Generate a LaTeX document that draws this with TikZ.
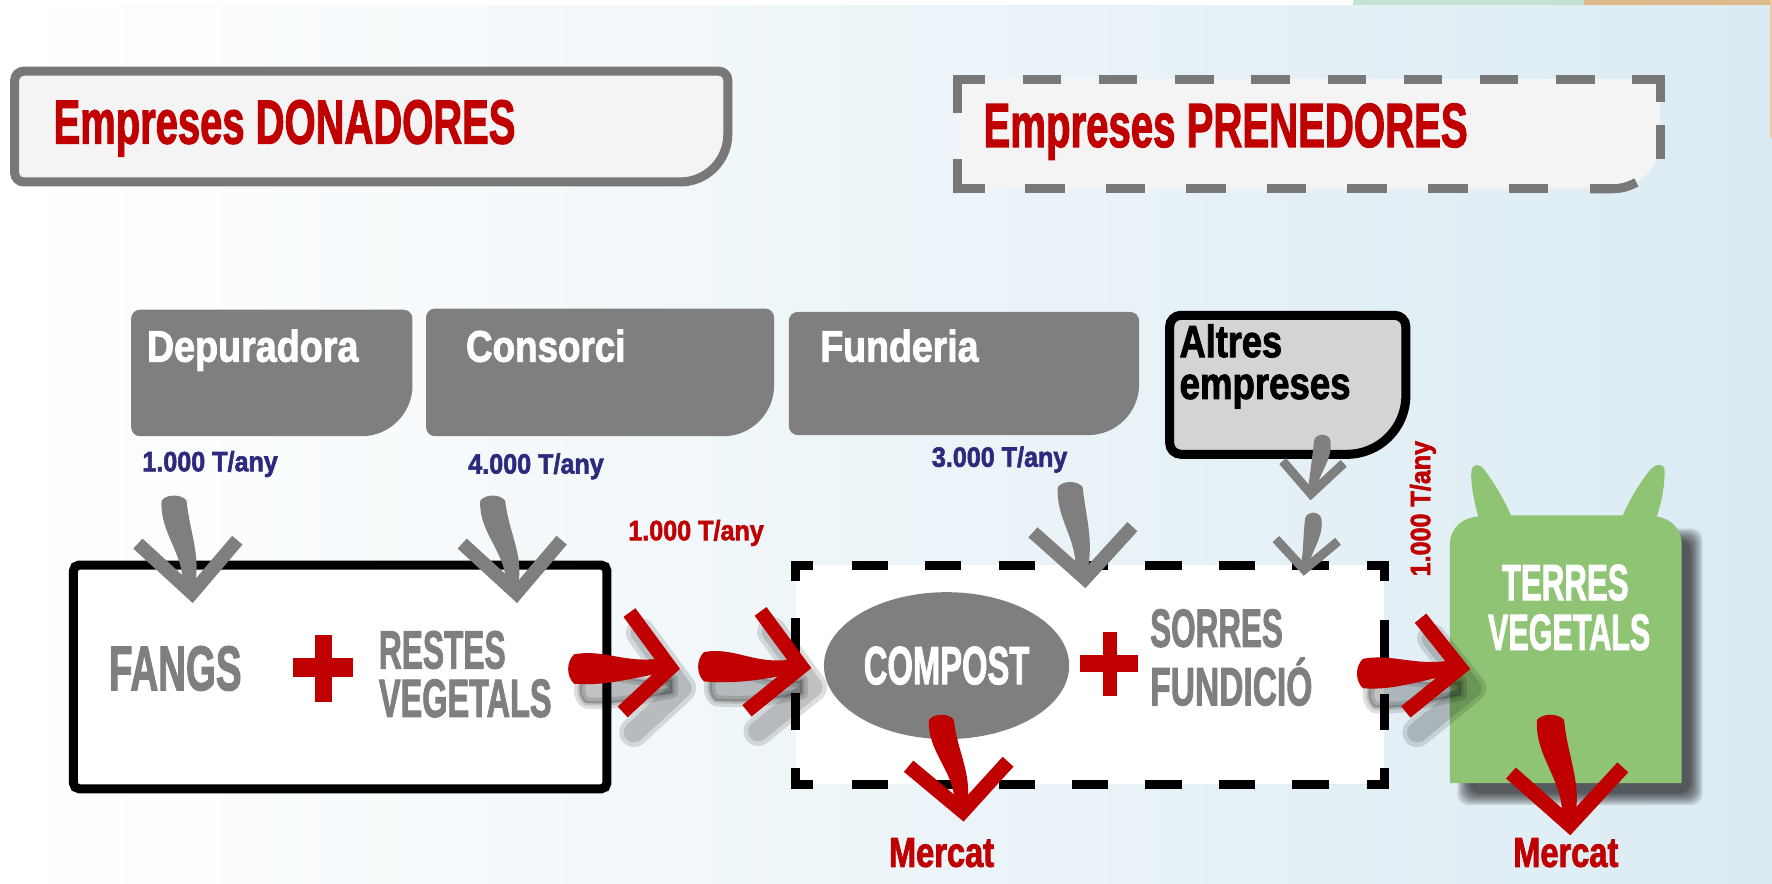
\documentclass[tikz,border=0pt]{standalone}
\usepackage{fontspec}
\setmainfont{Liberation Sans}[BoldFeatures={FakeBold=2.2}]
\usepackage{graphicx}
\usetikzlibrary{shapes.geometric}
\definecolor{cred}{RGB}{192,0,0}
\definecolor{cgray}{RGB}{127,127,127}
\definecolor{cnavy}{RGB}{45,42,125}
\definecolor{cgreen}{RGB}{143,196,117}
\definecolor{cbg}{RGB}{219,235,243}
\definecolor{cbox}{RGB}{244,244,244}
\definecolor{cborder}{RGB}{120,120,120}
\definecolor{clight}{RGB}{212,212,212}
\definecolor{cmint}{RGB}{197,227,212}
\definecolor{ctan}{RGB}{224,185,138}
\definecolor{corange}{RGB}{245,201,160}
\newcommand\sx[2]{\scalebox{#1}[1]{#2}}
\newcommand\fs[1]{\fontsize{#1}{#1}\selectfont}
% box with small corners r and big bottom-right corner Rb
\newcommand\cbpath[6]{({#1},{#2+#5}) .. controls ({#1},{#2+0.45*#5}) and ({#1+0.45*#5},{#2}) .. ({#1+#5},{#2}) -- ({#3-#5},{#2}) .. controls ({#3-0.45*#5},{#2}) and ({#3},{#2+0.45*#5}) .. ({#3},{#2+#5}) -- ({#3},{#4-#6}) .. controls ({#3},{#4-0.45*#6}) and ({#3-0.45*#6},{#4}) .. ({#3-#6},{#4}) -- ({#1+#5},{#4}) .. controls ({#1+0.45*#5},{#4}) and ({#1},{#4-0.45*#5}) .. ({#1},{#4-#5}) -- cycle}
% tapered brush shaft pointing down: top x,y ; bottom x,y ; half width
\newcommand\dshaft[5]{({#1-#5},{#2+3}) .. controls ({#1-#5-2},{#2+0.4*(#4-#2)}) and ({#3-0.6*#5+3},{#2+0.65*(#4-#2)}) .. ({#3-0.5*#5},{#4}) -- ({#3+0.5*#5},{#4}) .. controls ({#3+0.6*#5+4},{#2+0.65*(#4-#2)}) and ({#1+#5+3},{#2+0.4*(#4-#2)}) .. ({#1+#5},{#2+3}) .. controls ({#1+0.6*#5},{#2-3}) and ({#1-0.6*#5},{#2-3}) .. ({#1-#5},{#2+3}) -- cycle}
% tapered brush shaft pointing right: left x,y ; right x,y ; half width
\newcommand\rshaft[5]{({#1+2},{#2-#5}) .. controls ({#1+0.35*(#3-#1)},{#2-#5-5}) and ({#1+0.6*(#3-#1)},{#4-0.5*#5+5}) .. ({#3},{#4-0.5*#5}) -- ({#3},{#4+0.5*#5}) .. controls ({#1+0.6*(#3-#1)},{#4+0.5*#5+6}) and ({#1+0.35*(#3-#1)},{#2+#5+2}) .. ({#1+2},{#2+#5}) .. controls ({#1-5},{#2+0.5*#5}) and ({#1-5},{#2-0.5*#5}) .. ({#1+2},{#2-#5}) -- cycle}
\begin{document}
\begin{tikzpicture}[x=1pt,y=-1pt,
  txt/.style={inner sep=0pt,outer sep=0pt,anchor=base west,font=\bfseries},
  gbody/.style={fill=cgray},
  ghead/.style={draw=cgray,line width=12pt,line join=miter,miter limit=20},
  ghsmall/.style={draw=cgray,line width=8pt,line join=miter,miter limit=20},
  rbody/.style={fill=cred},
  rhead/.style={draw=cred,line width=13pt,line join=miter,miter limit=20},
  dashk/.style={draw=black,line width=8pt},
  dashg/.style={draw=cborder,line width=8pt},
  shd/.style={draw=black,opacity=0.13,line join=round,line cap=round},
]
\useasboundingbox (0,0) rectangle (1568,782);
% background
\shade[left color=white,right color=cbg] (0,0) rectangle (1568,782);
\fill[white] (0,0) rectangle (1568,4.4);
\fill[cmint] (1197,0) rectangle (1402,4.4);
\fill[ctan] (1402,0) rectangle (1568,4.4);
\fill[corange] (1566,0) rectangle (1568,122);

% title boxes
\filldraw[fill=cbox,draw=cborder,line width=8pt] \cbpath{13}{63}{644}{161}{8}{42};
\fill[cbox] \cbpath{847}{70}{1469}{167}{8}{42};
\draw[dashg] (847,100) -- (847,70) -- (872,70);
\draw[dashg,dash pattern=on 34pt off 33.43pt] (905,70) -- (1411,70);
\draw[dashg] (1444,70) -- (1469,70) -- (1469,90);
\draw[dashg] (1469,111) -- (1469,141);
\draw[dashg] (1407,167) -- (1427,167) .. controls (1434.4,167) and (1441.4,165) .. (1448,161.4);
\draw[dashg,dash pattern=on 35pt off 36.33pt] (907,167) -- (1370,167);
\draw[dashg] (847,141) -- (847,167) -- (872,167);
\node[txt,text=cred] (tdon) at (47.4,127) {\fs{55}\sx{0.643}{Empreses DONADORES}};
\node[txt,text=cred] (tpre) at (870.3,130) {\fs{55}\sx{0.646}{Empreses PRENEDORES}};

% company boxes
\fill[cgray] \cbpath{116}{274}{365}{386}{8}{45};
\fill[cgray] \cbpath{377}{273}{685}{386}{8}{45};
\fill[cgray] \cbpath{698}{276}{1008}{385}{8}{45};
\filldraw[fill=clight,draw=black,line width=8pt] \cbpath{1035}{279}{1244}{402}{10}{52};
\node[txt,text=white] (tdep) at (130,320) {\fs{39}\sx{0.855}{Depuradora}};
\node[txt,text=white] (tcon) at (412.4,320) {\fs{39}\sx{0.835}{Consorci}};
\node[txt,text=white] (tfun) at (725.9,320) {\fs{39}\sx{0.85}{Funderia}};
\node[inner sep=0pt,outer sep=0pt,anchor=north west,align=left,font=\bfseries\fontsize{40}{37}\selectfont,text=black] (talt) at (1043.8,287)
  {\sx{0.8}{Altres}\\\sx{0.81}{empreses}};

% quantities
\node[txt,text=cnavy] (tq1) at (126,417) {\fs{24.7}\sx{0.9}{1.000 T/any}};
\node[txt,text=cnavy] (tq2) at (414.4,419) {\fs{24.7}\sx{0.9}{4.000 T/any}};
\node[txt,text=cnavy] (tq3) at (824.6,413) {\fs{24.7}\sx{0.9}{3.000 T/any}};
\node[txt,text=cred] (tq4) at (556,478) {\fs{24.7}\sx{0.9}{1.000 T/any}};
\node[txt,text=cred,rotate=90] (tq5) at (1265.5,510) {\fs{24.7}\sx{0.9}{1.000 T/any}};

% FANGS box
\draw[line width=8pt,fill=white,rounded corners=5pt] (65,500) rectangle (537,698);
\node[txt,text=cgray] (tfan) at (96.5,610.7) {\fs{55.8}\sx{0.61}{FANGS}};
\fill[cred] (259,582.6) rectangle (312.4,598.9);
\fill[cred] (278.4,562) rectangle (293.6,621);
\node[txt,text=cgray] (tres1) at (335.3,591.5) {\fs{47.5}\sx{0.59}{RESTES}};
\node[txt,text=cgray] (tres2) at (335.3,634.3) {\fs{47.5}\sx{0.605}{VEGETALS}};

% compost dashed box
\fill[white] (704,500) rectangle (1225,694);
\draw[dashk] (704,514) -- (704,500) -- (719,500);
\draw[dashk,dash pattern=on 32pt off 33pt] (753.6,500) -- (1175.6,500);
\draw[dashk] (1210,500) -- (1225,500) -- (1225,514);
\draw[dashk] (1225,549) -- (1225,584);
\draw[dashk] (1225,614) -- (1225,646);
\draw[dashk] (1225,680) -- (1225,694) -- (1210,694);
\draw[dashk,dash pattern=on 32pt off 33pt] (753.6,694) -- (1175.6,694);
\draw[dashk] (719,694) -- (704,694) -- (704,680);
\draw[dashk] (704,547) -- (704,580);
\draw[dashk] (704,613) -- (704,646);
\node[ellipse,fill=cgray,inner sep=0pt,minimum width=217pt,minimum height=130pt,text=white,font=\bfseries] (compost) at (837.6,589) {\fs{47.5}\sx{0.61}{COMPOST}};
\fill[cred] (955.5,579.7) rectangle (1006.8,594.4);
\fill[cred] (975.6,559) rectangle (988.5,616);
\node[txt,text=cgray] (tsor1) at (1017.8,572.3) {\fs{47.5}\sx{0.585}{SORRES}};
\node[txt,text=cgray] (tsor2) at (1017.8,624) {\fs{47.5}\sx{0.625}{FUNDICIÓ}};

% terres vegetals
\foreach \i in {0,...,7} {\fill[black,opacity=0.11,rounded corners=10pt] ({1300-1.5*\i},{478-1.5*\i}) rectangle ({1496+1.5*\i},{702+1.5*\i});}
\fill[cgreen] (1283,693) -- (1283,482) .. controls (1283,467) and (1294,458) .. (1308,457)
 .. controls (1304,442) and (1301,426) .. (1302,417) .. controls (1303,410) and (1309,410) .. (1313,415)
 .. controls (1322,427) and (1331,442) .. (1337,456) -- (1436,456)
 .. controls (1442,442) and (1451,427) .. (1460,416) .. controls (1465,410) and (1473,409) .. (1473,417)
 .. controls (1473,428) and (1471,443) .. (1466,457) .. controls (1479,459) and (1488,468) .. (1488,482)
 -- (1488,693) -- cycle;
\node[txt,anchor=base,text=white] (tter1) at (1385,531) {\fs{45}\sx{0.615}{TERRES}};
\node[txt,anchor=base,text=white] (tter2) at (1388.5,575) {\fs{45}\sx{0.6}{VEGETALS}};

% market labels
\node[txt,text=cred] (tm1) at (786.6,767) {\fs{37}\sx{0.78}{Mercat}};
\node[txt,text=cred] (tm2) at (1339,767) {\fs{37}\sx{0.78}{Mercat}};

% arrow coordinates
\coordinate (g1l) at (122,481); \coordinate (g1t) at (170,525); \coordinate (g1r) at (210,478);
\coordinate (g2l) at (409,481); \coordinate (g2t) at (457,525); \coordinate (g2r) at (497,478);
\coordinate (g3l) at (914,471); \coordinate (g3t) at (960,512); \coordinate (g3r) at (1002,466);
\coordinate (g4l) at (1135,408); \coordinate (g4t) at (1160,437); \coordinate (g4r) at (1189,410);
\coordinate (g5l) at (1129,477); \coordinate (g5t) at (1154,504); \coordinate (g5r) at (1184,479);
\coordinate (a1u) at (557,542); \coordinate (a1t) at (593,591); \coordinate (a1d) at (551,630);
\coordinate (a2u) at (673,541); \coordinate (a2t) at (709,590); \coordinate (a2d) at (661,629);
\coordinate (a3u) at (1257,547); \coordinate (a3t) at (1292,591); \coordinate (a3d) at (1244,630);
\coordinate (d1l) at (804,678); \coordinate (d1t) at (852,718); \coordinate (d1r) at (892,674);
\coordinate (d2l) at (1337,684); \coordinate (d2t) at (1389,730); \coordinate (d2r) at (1436,679);

% shadows of red arrows
\begin{scope}[transform canvas={shift={(10,18)}}]
\foreach \w in {26,18} {
  \draw[shd,line width=\w pt] (a1u) -- (a1t) -- (a1d);
  \draw[shd,line width=\w pt] (a2u) -- (a2t) -- (a2d);
  \draw[shd,line width=\w pt] (a3u) -- (a3t) -- (a3d);
}
\foreach \w in {10,4} {
  \filldraw[shd,fill=black,line width=\w pt] \rshaft{506}{592}{585}{589}{12};
  \filldraw[shd,fill=black,line width=\w pt] \rshaft{621}{590}{700}{590}{12};
  \filldraw[shd,fill=black,line width=\w pt] \rshaft{1204}{596}{1283}{591}{12};
}
\end{scope}

% gray arrows
\fill[gbody] \dshaft{154}{440}{167}{518}{11};
\draw[ghead] (g1l) -- (g1t) -- (g1r);
\fill[gbody] \dshaft{436}{440}{453}{518}{11};
\draw[ghead] (g2l) -- (g2t) -- (g2r);
\fill[gbody] \dshaft{947}{428}{957}{504}{11};
\draw[ghead] (g3l) -- (g3t) -- (g3r);
\fill[gbody] \dshaft{1170}{386}{1161}{432}{7};
\draw[ghsmall] (g4l) -- (g4t) -- (g4r);
\fill[gbody] \dshaft{1162}{455}{1155}{498}{7};
\draw[ghsmall] (g5l) -- (g5t) -- (g5r);

% red arrows
\fill[rbody] \rshaft{506}{592}{585}{589}{13};
\draw[rhead] (a1u) -- (a1t) -- (a1d);
\fill[rbody] \rshaft{621}{590}{700}{590}{13};
\draw[rhead] (a2u) -- (a2t) -- (a2d);
\fill[rbody] \rshaft{1204}{596}{1283}{591}{13};
\draw[rhead] (a3u) -- (a3t) -- (a3d);
\fill[rbody] \dshaft{833}{634}{850}{712}{11};
\draw[rhead] (d1l) -- (d1t) -- (d1r);
\fill[rbody] \dshaft{1372}{634}{1388}{722}{12};
\draw[rhead] (d2l) -- (d2t) -- (d2r);
\end{tikzpicture}
\end{document}
